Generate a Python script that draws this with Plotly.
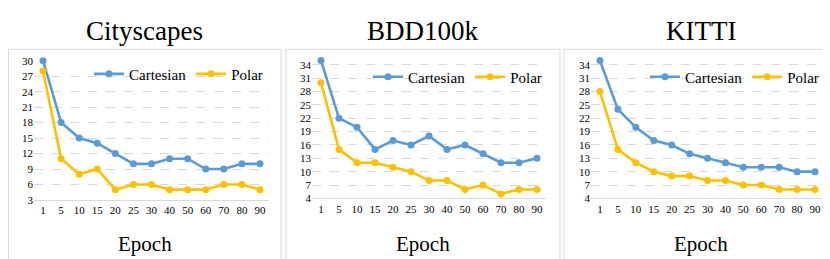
import plotly.graph_objects as go

epochs = ["1", "5", "10", "15", "20", "25", "30", "40", "50", "60", "70", "80", "90"]
titles = ["Cityscapes", "BDD100k", "KITTI"]
city_cart = [30, 18, 15, 14, 12, 10, 10, 11, 11, 9, 9, 10, 10]
city_polar = [28, 11, 8, 9, 5, 6, 6, 5, 5, 5, 6, 6, 5]
bdd_cart = [35, 22, 20, 15, 17, 16, 18, 15, 16, 14, 12, 12, 13]
bdd_polar = [30, 15, 12, 12, 11, 10, 8, 8, 6, 7, 5, 6, 6]
kitti_cart = [35, 24, 20, 17, 16, 14, 13, 12, 11, 11, 11, 10, 10]
kitti_polar = [28, 15, 12, 10, 9, 9, 8, 8, 7, 7, 6, 6, 6]
y_ticks = [[3, 6, 9, 12, 15, 18, 21, 24, 27, 30],
           [4, 7, 10, 13, 16, 19, 22, 25, 28, 31, 34],
           [4, 7, 10, 13, 16, 19, 22, 25, 28, 31, 34]]
y_ranges = [[3, 30], [4, 35], [4, 35]]

W, H = 830, 259
BLUE = "#5B9BD5"
GOLD = "#FFC000"
FONT = "Liberation Serif, DejaVu Serif, serif"

data = [(city_cart, city_polar), (bdd_cart, bdd_polar), (kitti_cart, kitti_polar)]
xdom_px = [(26, 261), (304, 538), (583, 816)]
ydom_px = [(49, 195), (48.7, 193.3), (48.7, 193.3)]
box_px = [(0.5, 273), (278, 552), (556, 829.5)]
legend_pos = [(260, 63), (539, 66), (816, 66)]

fig = go.Figure()
layout = dict(width=W, height=H, margin=dict(l=0, r=0, t=0, b=0),
              paper_bgcolor="white", plot_bgcolor="white",
              font=dict(family=FONT, color="#000000"))
shapes = []
annotations = []
for i in range(3):
    sfx = "" if i == 0 else str(i + 1)
    leg = "legend" if i == 0 else "legend" + str(i + 1)
    cart, polar = data[i]
    for name, vals, col in [("Cartesian", cart, BLUE), ("Polar", polar, GOLD)]:
        fig.add_trace(go.Scatter(x=epochs, y=vals, name=name, mode="lines+markers",
                                 line=dict(color=col, width=2.6),
                                 marker=dict(color=col, size=7),
                                 xaxis="x" + sfx, yaxis="y" + sfx, legend=leg,
                                 cliponaxis=False))
    x0, x1 = xdom_px[i]
    yt, yb = ydom_px[i]
    layout["xaxis" + sfx] = dict(domain=[x0 / W, x1 / W], anchor="y" + sfx, type="category",
                                 range=[-0.5, 12.5], showgrid=False, showline=True,
                                 linecolor="#d9d9d9", linewidth=1, ticks="",
                                 tickfont=dict(family=FONT, size=11), fixedrange=True)
    layout["yaxis" + sfx] = dict(domain=[(H - yb) / H, (H - yt) / H], anchor="x" + sfx,
                                 range=y_ranges[i], tickvals=y_ticks[i], showgrid=True,
                                 gridcolor="#d9d9d9", griddash="dash", gridwidth=1,
                                 zeroline=False, showline=False, ticks="",
                                 tickfont=dict(family=FONT, size=11), fixedrange=True)
    lx, ly = legend_pos[i]
    layout[leg] = dict(orientation="h", x=lx / W, y=(H - ly) / H, xanchor="right",
                       yanchor="middle", font=dict(family=FONT, size=15),
                       bgcolor="rgba(0,0,0,0)", itemwidth=30, tracegroupgap=0)
    bx0, bx1 = box_px[i]
    shapes.append(dict(type="rect", xref="paper", yref="paper", x0=bx0 / W, x1=bx1 / W,
                       y0=-0.01, y1=(H - 37) / H, line=dict(color="#d9d9d9", width=1)))
    cx = (bx0 + bx1) / 2
    annotations.append(dict(text=titles[i], xref="paper", yref="paper", x=cx / W,
                            y=(H - 18) / H, showarrow=False, xanchor="center", yanchor="middle",
                            font=dict(family=FONT, size=27)))
    annotations.append(dict(text="Epoch", xref="paper", yref="paper", x=cx / W,
                            y=(H - 241) / H, showarrow=False, xanchor="center", yanchor="middle",
                            font=dict(family=FONT, size=21)))

layout["shapes"] = shapes
layout["annotations"] = annotations
fig.update_layout(**layout)
fig.write_html("out.html")
